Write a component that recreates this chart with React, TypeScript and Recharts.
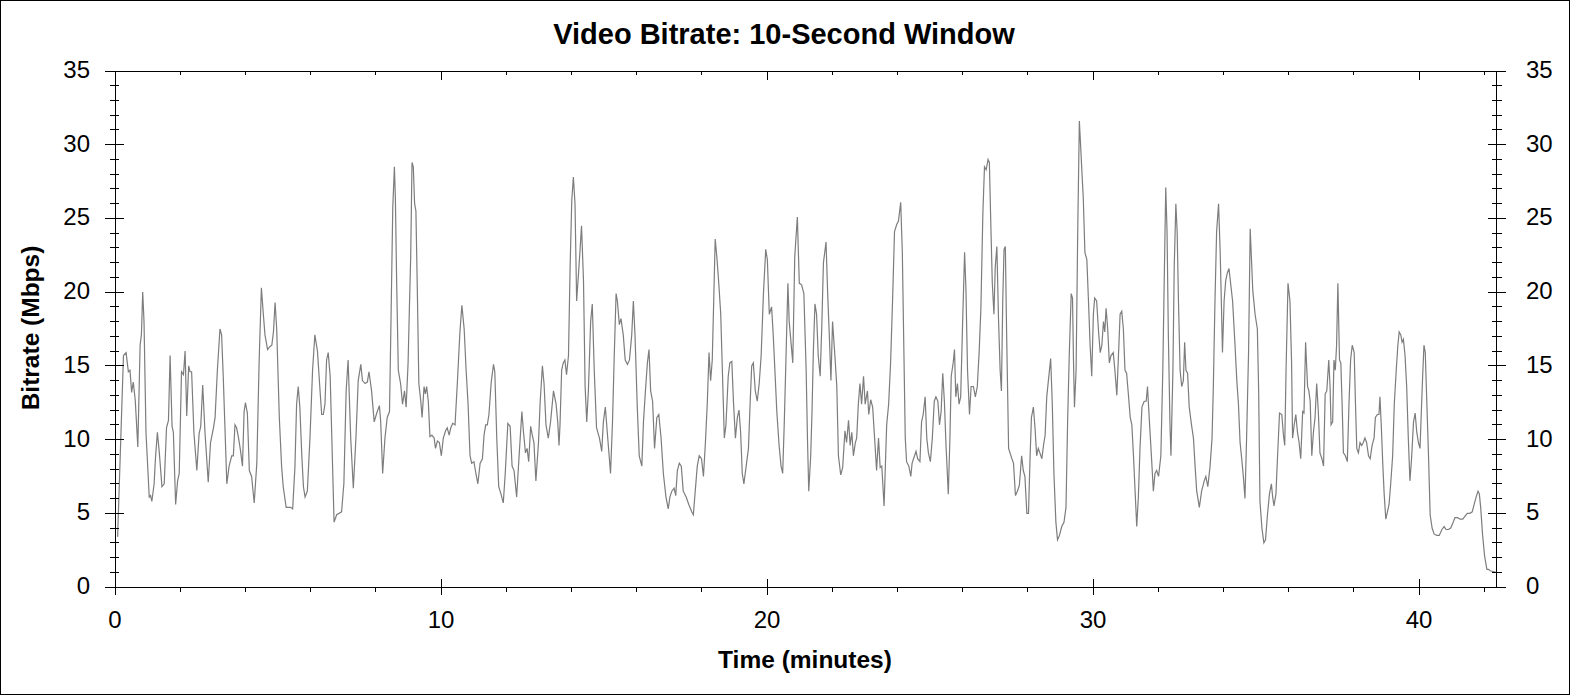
import { LineChart, Line, XAxis, YAxis } from "recharts";

// ── Data: time in minutes, 10-second window bitrate in Mbps ──
const minutes0to7 = [
  0.08, 0.26, 0.34, 0.41, 0.46, 0.51, 0.56, 0.62, 0.7, 0.77,
  0.81, 0.85, 0.89, 0.95, 1.05, 1.09, 1.13, 1.2, 1.24, 1.3,
  1.36, 1.44, 1.51, 1.58, 1.64, 1.69, 1.75, 1.79, 1.86, 1.92,
  1.97, 2.04, 2.1, 2.15, 2.2, 2.26, 2.3, 2.35, 2.42, 2.51,
  2.58, 2.63, 2.69, 2.76, 2.86, 2.93, 3.02, 3.07, 3.14, 3.22,
  3.27, 3.32, 3.43, 3.5, 3.58, 3.63, 3.68, 3.73, 3.79, 3.84,
  3.91, 3.96, 4.0, 4.06, 4.12, 4.19, 4.27, 4.35, 4.42, 4.49,
  4.55, 4.6, 4.68, 4.75, 4.81, 4.86, 4.91, 4.96, 5.04, 5.11,
  5.16, 5.25, 5.32, 5.39, 5.45, 5.52, 5.57, 5.62, 5.67, 5.73,
  5.78, 5.83, 5.9, 5.98, 6.06, 6.13, 6.21, 6.29, 6.34, 6.39,
  6.44, 6.49, 6.54, 6.6,
];
const mbps0to7 = [
  3.4, 15.7, 15.9, 14.6, 14.7, 13.2, 13.9, 12.7, 9.5, 16.4,
  17.1, 20.0, 18.0, 10.5, 6.1, 6.2, 5.8, 7.0, 8.7, 10.5,
  9.1, 6.8, 7.0, 10.8, 11.3, 15.7, 10.9, 10.5, 5.6, 7.2,
  7.7, 14.6, 14.4, 16.0, 11.6, 15.0, 14.6, 14.6, 10.5, 7.9,
  10.4, 10.9, 13.7, 10.5, 7.1, 9.8, 10.8, 11.5, 14.7, 17.5,
  17.1, 14.3, 7.0, 8.2, 8.9, 8.9, 11.0, 10.8, 10.1, 9.4,
  8.2, 11.9, 12.5, 11.8, 7.9, 7.5, 5.7, 8.4, 15.2, 20.3,
  18.5, 17.1, 16.1, 16.3, 16.4, 17.3, 19.3, 17.5, 11.5, 8.2,
  6.8, 5.4, 5.4, 5.4, 5.3, 8.2, 12.4, 13.6, 12.2, 8.9,
  6.8, 6.1, 6.5, 10.1, 14.7, 17.1, 16.0, 13.3, 11.7, 11.7,
  12.4, 15.4, 15.9, 14.3,
];

const minutes7to14 = [
  6.72, 6.8, 6.95, 7.02, 7.09, 7.15, 7.23, 7.31, 7.39, 7.46,
  7.54, 7.59, 7.67, 7.74, 7.79, 7.87, 7.95, 8.03, 8.11, 8.15,
  8.21, 8.28, 8.35, 8.42, 8.46, 8.52, 8.57, 8.6, 8.64, 8.69,
  8.76, 8.82, 8.88, 8.93, 8.99, 9.03, 9.07, 9.11, 9.15, 9.19,
  9.23, 9.27, 9.32, 9.38, 9.42, 9.48, 9.52, 9.56, 9.61, 9.66,
  9.72, 9.79, 9.83, 9.89, 9.95, 10.01, 10.07, 10.14, 10.19, 10.25,
  10.3, 10.36, 10.43, 10.5, 10.58, 10.64, 10.71, 10.77, 10.83, 10.89,
  10.94, 11.01, 11.07, 11.13, 11.2, 11.27, 11.32, 11.37, 11.42, 11.47,
  11.54, 11.61, 11.65, 11.71, 11.77, 11.84, 11.91, 11.97, 12.05, 12.12,
  12.18, 12.24, 12.32, 12.39, 12.48, 12.53, 12.59, 12.64, 12.69, 12.75,
  12.8, 12.85, 12.91, 12.99, 13.04, 13.11, 13.16, 13.22, 13.29, 13.36,
  13.45, 13.53, 13.58, 13.62,
];
const mbps7to14 = [
  4.4, 4.9, 5.1, 7.0, 13.3, 15.4, 10.1, 6.7, 10.1, 14.0,
  15.1, 14.0, 13.8, 13.9, 14.6, 13.3, 11.2, 11.8, 12.3, 11.2,
  7.7, 10.1, 11.5, 11.9, 17.3, 25.7, 28.5, 26.4, 20.6, 14.7,
  13.8, 12.4, 13.3, 12.2, 15.2, 18.9, 22.4, 28.8, 28.5, 26.0,
  25.5, 20.6, 13.8, 12.6, 11.5, 13.6, 13.1, 13.6, 12.6, 10.2,
  10.3, 10.1, 9.4, 9.9, 9.8, 8.9, 10.1, 10.6, 10.8, 10.3,
  10.8, 11.1, 11.0, 13.8, 17.3, 19.1, 17.5, 14.7, 12.4, 8.9,
  8.4, 8.5, 7.7, 7.0, 8.4, 8.7, 10.3, 11.0, 11.0, 11.7,
  13.9, 15.1, 14.6, 10.1, 6.8, 6.3, 5.7, 7.7, 11.1, 10.9,
  8.2, 7.9, 6.1, 8.7, 11.9, 10.5, 9.1, 9.4, 8.5, 10.9,
  10.3, 9.8, 7.2, 9.8, 12.5, 15.0, 13.8, 11.0, 10.1, 11.2,
  13.3, 12.4, 11.2, 9.6,
];

const minutes14to21 = [
  13.65, 13.7, 13.75, 13.8, 13.85, 13.91, 13.96, 14.01, 14.06, 14.11,
  14.16, 14.21, 14.26, 14.31, 14.37, 14.42, 14.47, 14.52, 14.59, 14.64,
  14.7, 14.77, 14.86, 14.93, 14.98, 15.04, 15.1, 15.15, 15.2, 15.26,
  15.31, 15.37, 15.41, 15.47, 15.52, 15.59, 15.65, 15.72, 15.78, 15.85,
  15.9, 15.95, 16.02, 16.08, 16.16, 16.21, 16.27, 16.33, 16.38, 16.43,
  16.49, 16.55, 16.62, 16.68, 16.75, 16.82, 16.9, 16.97, 17.02, 17.08,
  17.15, 17.2, 17.25, 17.31, 17.37, 17.43, 17.52, 17.6, 17.69, 17.74,
  17.79, 17.86, 17.92, 17.99, 18.05, 18.11, 18.17, 18.22, 18.27, 18.32,
  18.37, 18.41, 18.46, 18.52, 18.58, 18.63, 18.69, 18.74, 18.81, 18.86,
  18.92, 18.97, 19.03, 19.09, 19.14, 19.19, 19.24, 19.29, 19.36, 19.43,
  19.48, 19.53, 19.58, 19.64, 19.7, 19.76, 19.82, 19.89, 19.96, 20.01,
  20.07, 20.14, 20.19, 20.25, 20.3, 20.37, 20.43, 20.48, 20.53, 20.58,
  20.64, 20.68,
];
const mbps14to21 = [
  11.0, 14.7, 15.2, 15.4, 14.4, 15.7, 21.7, 26.2, 27.8, 26.0,
  19.4, 21.0, 22.7, 24.5, 20.8, 13.6, 11.2, 13.3, 18.0, 19.2,
  14.7, 10.8, 10.1, 9.2, 11.2, 12.2, 10.5, 9.1, 7.7, 11.2,
  15.4, 19.9, 19.4, 17.8, 18.2, 17.1, 15.4, 15.1, 15.4, 17.1,
  19.4, 17.1, 12.2, 8.9, 8.2, 11.2, 13.3, 15.2, 16.1, 13.3,
  12.6, 9.4, 11.5, 11.7, 10.1, 7.7, 6.1, 5.3, 6.1, 6.5,
  6.7, 6.2, 7.9, 8.4, 8.2, 6.5, 6.1, 5.6, 5.1, 4.9,
  6.3, 8.2, 8.9, 8.7, 7.5, 9.8, 12.6, 15.9, 14.0, 15.4,
  19.9, 23.6, 22.4, 20.6, 18.5, 14.7, 10.1, 11.0, 14.3, 15.2,
  15.3, 12.6, 10.1, 11.5, 12.0, 10.5, 7.7, 7.0, 8.2, 9.4,
  12.4, 15.0, 15.2, 13.3, 12.6, 13.8, 15.7, 19.9, 22.9, 22.2,
  18.5, 19.0, 17.1, 14.3, 11.9, 9.6, 8.2, 7.7, 11.2, 15.4,
  20.6, 18.0,
];

const minutes21to28 = [
  20.79, 20.85, 20.93, 20.99, 21.06, 21.13, 21.2, 21.24, 21.28, 21.34,
  21.38, 21.42, 21.47, 21.52, 21.57, 21.63, 21.68, 21.73, 21.81, 21.86,
  21.91, 21.96, 22.01, 22.09, 22.14, 22.19, 22.26, 22.32, 22.39, 22.44,
  22.5, 22.55, 22.6, 22.65, 22.71, 22.75, 22.8, 22.85, 22.9, 22.96,
  23.01, 23.08, 23.12, 23.18, 23.24, 23.3, 23.36, 23.42, 23.47, 23.52,
  23.59, 23.67, 23.73, 23.79, 23.85, 23.91, 23.98, 24.03, 24.1, 24.15,
  24.2, 24.24, 24.28, 24.35, 24.41, 24.45, 24.51, 24.57, 24.62, 24.69,
  24.74, 24.79, 24.85, 24.9, 24.95, 25.01, 25.07, 25.13, 25.18, 25.24,
  25.29, 25.34, 25.39, 25.44, 25.49, 25.56, 25.61, 25.65, 25.71, 25.75,
  25.79, 25.84, 25.89, 25.94, 26.0, 26.06, 26.1, 26.15, 26.21, 26.26,
  26.33, 26.39, 26.45, 26.51, 26.56, 26.62, 26.67, 26.72, 26.78, 26.82,
  26.87, 26.91, 26.96, 27.0, 27.05, 27.1, 27.15, 27.19, 27.23, 27.27,
  27.31, 27.35, 27.41, 27.51, 27.56, 27.62, 27.68, 27.74,
];
const mbps21to28 = [
  15.2, 22.4, 25.1, 20.6, 20.5, 19.9, 14.7, 10.1, 6.5, 8.9,
  11.9, 15.9, 19.2, 18.5, 15.7, 14.3, 17.7, 22.0, 23.4, 19.9,
  17.1, 14.0, 18.0, 15.4, 13.6, 8.9, 7.6, 8.1, 10.6, 9.8,
  11.3, 9.6, 10.5, 8.9, 9.8, 10.1, 12.4, 13.8, 12.4, 14.3,
  12.4, 13.3, 11.7, 12.7, 12.2, 10.1, 7.9, 10.1, 8.1, 8.2,
  5.5, 11.0, 12.4, 15.2, 19.4, 24.1, 24.6, 24.8, 26.1, 22.7,
  15.7, 10.1, 8.5, 8.2, 7.5, 8.4, 8.8, 9.2, 8.7, 8.5,
  11.2, 11.7, 12.9, 10.1, 9.1, 8.5, 10.1, 12.6, 12.9, 12.6,
  11.0, 11.9, 14.5, 12.6, 9.6, 6.3, 10.1, 14.3, 15.2, 16.1,
  12.9, 13.8, 12.4, 12.9, 18.0, 22.7, 20.3, 14.7, 11.7, 13.6,
  13.6, 12.9, 13.6, 16.1, 18.9, 25.3, 28.5, 28.3, 29.0, 28.8,
  24.1, 20.6, 18.5, 21.7, 23.1, 18.2, 14.7, 13.3, 19.4, 22.9,
  23.1, 17.1, 9.4, 8.7, 8.4, 6.2, 6.5, 6.9,
];

const minutes28to35 = [
  27.81, 27.86, 27.91, 27.97, 28.02, 28.07, 28.11, 28.17, 28.22, 28.27,
  28.32, 28.37, 28.43, 28.48, 28.53, 28.58, 28.63, 28.7, 28.75, 28.8,
  28.86, 28.91, 28.97, 29.04, 29.11, 29.17, 29.22, 29.27, 29.33, 29.37,
  29.4, 29.43, 29.48, 29.53, 29.58, 29.62, 29.66, 29.7, 29.75, 29.81,
  29.86, 29.91, 29.96, 30.01, 30.05, 30.11, 30.17, 30.22, 30.27, 30.32,
  30.36, 30.4, 30.45, 30.5, 30.55, 30.62, 30.67, 30.73, 30.78, 30.83,
  30.88, 30.93, 30.98, 31.03, 31.09, 31.14, 31.19, 31.24, 31.29, 31.34,
  31.39, 31.44, 31.5, 31.57, 31.63, 31.67, 31.73, 31.79, 31.85, 31.9,
  31.95, 32.01, 32.08, 32.14, 32.19, 32.23, 32.27, 32.31, 32.36, 32.39,
  32.45, 32.49, 32.54, 32.58, 32.62, 32.67, 32.72, 32.77, 32.81, 32.85,
  32.9, 32.95, 33.02, 33.08, 33.13, 33.18, 33.26, 33.33, 33.41, 33.46,
  33.52, 33.59, 33.65, 33.69, 33.74, 33.79, 33.85, 33.9, 33.94, 33.97,
  34.02, 34.07, 34.12, 34.17, 34.22, 34.28, 34.35, 34.41, 34.46, 34.51,
  34.56, 34.61, 34.66, 34.71, 34.77,
];
const mbps28to35 = [
  8.9, 7.9, 7.5, 5.0, 5.0, 8.9, 11.5, 12.2, 10.8, 8.9,
  9.4, 9.1, 8.7, 9.6, 10.3, 12.9, 14.0, 15.5, 12.4, 7.7,
  4.4, 3.2, 3.5, 4.1, 4.4, 5.4, 11.2, 15.7, 19.9, 19.6,
  15.4, 12.2, 14.7, 24.1, 31.6, 29.9, 28.1, 26.4, 22.7, 22.2,
  19.4, 16.4, 14.3, 18.5, 19.6, 19.4, 17.3, 15.9, 16.4, 18.0,
  17.3, 18.9, 17.5, 15.2, 15.7, 15.9, 14.7, 13.0, 15.7, 18.5,
  18.7, 17.5, 14.7, 14.5, 12.9, 11.5, 11.0, 8.9, 6.5, 4.1,
  6.1, 9.4, 12.2, 12.6, 12.6, 13.6, 11.2, 8.9, 6.5, 7.7,
  7.9, 7.5, 8.9, 14.7, 21.7, 27.1, 24.1, 17.1, 11.0, 8.9,
  14.7, 21.7, 26.0, 24.1, 19.4, 14.7, 13.6, 14.0, 16.6, 14.7,
  14.5, 12.2, 11.0, 10.1, 8.2, 6.5, 5.4, 6.5, 7.2, 7.5,
  6.8, 8.2, 10.1, 13.6, 19.4, 24.1, 26.0, 22.7, 18.9, 15.9,
  19.4, 20.8, 21.3, 21.6, 20.6, 19.4, 16.6, 14.0, 12.4, 9.8,
  8.7, 7.5, 6.0, 10.1, 15.9,
];

const minutes35to42 = [
  34.82, 34.9, 34.97, 35.04, 35.08, 35.12, 35.18, 35.24, 35.29, 35.35,
  35.41, 35.47, 35.51, 35.55, 35.61, 35.65, 35.72, 35.79, 35.84, 35.88,
  35.92, 35.98, 36.04, 36.09, 36.12, 36.17, 36.22, 36.27, 36.32, 36.37,
  36.43, 36.47, 36.52, 36.58, 36.62, 36.66, 36.71, 36.76, 36.81, 36.86,
  36.91, 36.96, 37.02, 37.07, 37.12, 37.17, 37.23, 37.27, 37.3, 37.35,
  37.39, 37.43, 37.47, 37.51, 37.56, 37.6, 37.64, 37.68, 37.74, 37.8,
  37.85, 37.9, 37.95, 38.01, 38.05, 38.09, 38.14, 38.19, 38.24, 38.29,
  38.34, 38.39, 38.45, 38.5, 38.56, 38.62, 38.66, 38.72, 38.77, 38.8,
  38.84, 38.89, 38.93, 38.98, 39.03, 39.08, 39.13, 39.19, 39.24, 39.3,
  39.35, 39.39, 39.44, 39.48, 39.52, 39.57, 39.62, 39.67, 39.72, 39.77,
  39.83, 39.88, 39.93, 39.98, 40.03, 40.07, 40.11, 40.15, 40.19, 40.24,
  40.29, 40.34, 40.4, 40.46, 40.54, 40.62, 40.7, 40.77, 40.83, 40.9,
  40.97, 41.03, 41.1, 41.18, 41.26, 41.34, 41.41, 41.48, 41.56, 41.63,
  41.69, 41.75, 41.81, 41.85, 41.89, 41.95, 42.01, 42.08, 42.13, 42.18,
  42.36,
];
const mbps35to42 = [
  24.3, 20.1, 18.5, 17.5, 13.3, 5.8, 4.0, 3.0, 3.2, 4.9,
  6.3, 7.0, 6.1, 5.5, 6.3, 8.4, 11.8, 11.7, 10.3, 9.6,
  14.7, 20.6, 19.4, 15.2, 10.1, 11.0, 11.7, 10.5, 9.8, 8.7,
  11.9, 11.8, 16.6, 13.6, 13.3, 12.6, 8.9, 10.5, 11.5, 13.8,
  11.9, 9.1, 8.7, 8.2, 13.1, 13.3, 15.4, 13.6, 11.0, 11.2,
  15.4, 14.7, 16.4, 20.6, 15.4, 15.2, 12.4, 9.1, 8.9, 8.5,
  12.4, 15.4, 16.4, 15.9, 12.4, 9.4, 9.1, 9.8, 9.6, 9.8,
  10.1, 9.8, 8.9, 8.7, 9.6, 10.1, 11.5, 11.7, 11.7, 12.9,
  11.0, 8.2, 6.3, 4.6, 5.1, 5.6, 7.0, 8.9, 12.4, 14.7,
  16.4, 17.3, 17.1, 16.6, 16.8, 15.7, 13.6, 10.1, 7.2, 8.7,
  11.2, 11.8, 10.5, 9.8, 9.4, 11.9, 14.3, 16.4, 15.9, 12.4,
  8.9, 4.9, 4.0, 3.6, 3.5, 3.5, 3.9, 4.1, 3.9, 3.9,
  4.0, 4.3, 4.7, 4.7, 4.6, 4.6, 4.8, 5.0, 5.0, 5.1,
  5.6, 6.1, 6.5, 6.3, 5.4, 3.5, 2.1, 1.2, 1.2, 1.1,
  1.0,
];

// ── Axis ticks ──
const minuteTicks = [0, 2, 4, 6, 8, 10, 12, 14, 16, 18, 20, 22, 24, 26, 28, 30, 32, 34, 36, 38, 40, 42];
const mbpsTicks = [
  0, 1, 2, 3, 4, 5, 6, 7, 8, 9, 10, 11, 12, 13, 14, 15, 16, 17,
  18, 19, 20, 21, 22, 23, 24, 25, 26, 27, 28, 29, 30, 31, 32, 33, 34, 35,
];

const allMinutes = [
  ...minutes0to7,
  ...minutes7to14,
  ...minutes14to21,
  ...minutes21to28,
  ...minutes28to35,
  ...minutes35to42,
];
const allMbps = [
  ...mbps0to7,
  ...mbps7to14,
  ...mbps14to21,
  ...mbps21to28,
  ...mbps28to35,
  ...mbps35to42,
];
const chartData = allMinutes.map((t, i) => ({ t, mbps: allMbps[i] }));

const FONT = "Arial, 'Liberation Sans', sans-serif";
const INK = "#000";

function BottomTick(props: any) {
  const { x, y, payload } = props;
  const major = payload.value % 10 === 0;
  return (
    <g>
      <line
        x1={x}
        x2={x}
        y1={major ? y - 8 : y}
        y2={major ? y + 8 : y + 5}
        stroke={INK}
        shapeRendering="crispEdges"
      />
      {major && (
        <text x={x} y={y + 41} textAnchor="middle" fontSize={24} fontFamily={FONT} fill={INK}>
          {payload.value}
        </text>
      )}
    </g>
  );
}

function TopTick(props: any) {
  const { x, y, payload } = props;
  const major = payload.value % 10 === 0;
  return (
    <line x1={x} x2={x} y1={y} y2={major ? y + 9 : y + 4} stroke={INK} shapeRendering="crispEdges" />
  );
}

function LeftTick(props: any) {
  const { x, y, payload } = props;
  const major = payload.value % 5 === 0;
  return (
    <g>
      <line
        x1={major ? x - 10 : x - 5}
        x2={major ? x + 9 : x + 4}
        y1={y}
        y2={y}
        stroke={INK}
        shapeRendering="crispEdges"
      />
      {major && (
        <text x={x - 25} y={y + 7} textAnchor="end" fontSize={24} fontFamily={FONT} fill={INK}>
          {payload.value}
        </text>
      )}
    </g>
  );
}

function RightTick(props: any) {
  const { x, y, payload } = props;
  const major = payload.value % 5 === 0;
  return (
    <g>
      <line
        x1={major ? x - 8 : x - 4}
        x2={major ? x + 10 : x + 6}
        y1={y}
        y2={y}
        stroke={INK}
        shapeRendering="crispEdges"
      />
      {major && (
        <text x={x + 30} y={y + 7} textAnchor="start" fontSize={24} fontFamily={FONT} fill={INK}>
          {payload.value}
        </text>
      )}
    </g>
  );
}

export default function App() {
  const axisLine = { stroke: INK, strokeWidth: 1, shapeRendering: "crispEdges" };
  return (
    <div
      style={{
        position: "absolute",
        left: 0,
        top: 0,
        width: 1570,
        height: 695,
        boxSizing: "border-box",
        border: "1px solid #000",
        background: "#fff",
      }}
    >
      <LineChart
        width={1568}
        height={693}
        data={chartData}
        margin={{ top: 0, right: 0, bottom: 0, left: 0 }}
      >
        <XAxis
          dataKey="t"
          type="number"
          domain={[0, 42.36]}
          allowDataOverflow
          ticks={minuteTicks}
          interval={0}
          height={107}
          tickSize={0}
          tickMargin={0}
          tickLine={false}
          axisLine={axisLine}
          tick={(p: any) => <BottomTick {...p} />}
        />
        <XAxis
          xAxisId="top"
          orientation="top"
          dataKey="t"
          type="number"
          domain={[0, 42.36]}
          allowDataOverflow
          ticks={minuteTicks}
          interval={0}
          height={70}
          tickSize={0}
          tickMargin={0}
          tickLine={false}
          axisLine={axisLine}
          tick={(p: any) => <TopTick {...p} />}
        />
        <YAxis
          type="number"
          domain={[0, 35]}
          allowDataOverflow
          ticks={mbpsTicks}
          interval={0}
          width={114}
          tickSize={0}
          tickMargin={0}
          tickLine={false}
          axisLine={axisLine}
          tick={(p: any) => <LeftTick {...p} />}
        />
        <YAxis
          yAxisId="right"
          orientation="right"
          type="number"
          domain={[0, 35]}
          allowDataOverflow
          ticks={mbpsTicks}
          interval={0}
          width={73}
          tickSize={0}
          tickMargin={0}
          tickLine={false}
          axisLine={axisLine}
          tick={(p: any) => <RightTick {...p} />}
        />
        <Line
          type="linear"
          dataKey="mbps"
          stroke="#7d7d7d"
          strokeWidth={1.2}
          dot={false}
          activeDot={false}
          isAnimationActive={false}
        />
      </LineChart>

      {/* ── Title and axis titles ── */}
      <svg
        width={1568}
        height={693}
        style={{ position: "absolute", left: 0, top: 0, pointerEvents: "none" }}
      >
        <text x={783} y={43} textAnchor="middle" fontSize={29} fontWeight={700} fontFamily={FONT} fill={INK}>
          Video Bitrate: 10-Second Window
        </text>
        <text x={804} y={667} textAnchor="middle" fontSize={24.5} fontWeight={700} fontFamily={FONT} fill={INK}>
          Time (minutes)
        </text>
        <text
          x={38}
          y={327}
          transform="rotate(-90 38 327)"
          textAnchor="middle"
          fontSize={24.5}
          fontWeight={700}
          fontFamily={FONT}
          fill={INK}
        >
          Bitrate (Mbps)
        </text>
      </svg>
    </div>
  );
}
